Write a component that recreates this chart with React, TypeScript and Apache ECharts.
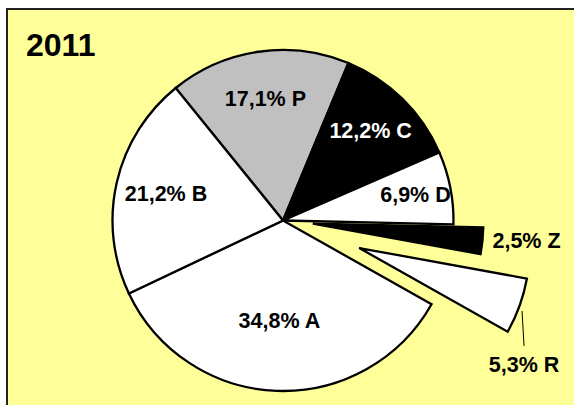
import React, { useEffect, useRef } from 'react';
import * as echarts from 'echarts';

// ---- data ----
const chartTitle = '2011';
const categories = ['P', 'C', 'D', 'Z', 'R', 'A', 'B'];
const shares = [17.1, 12.2, 6.9, 2.5, 5.3, 34.8, 21.2];

// ---- styles / layout ----
const FONT = '"Liberation Sans", Arial, sans-serif';
const sliceColors: Record<string, string> = {
  P: '#C0C0C0', C: '#000000', D: '#FFFFFF', Z: '#000000', R: '#FFFFFF', A: '#FFFFFF', B: '#FFFFFF',
};
const labelTextColors: Record<string, string> = { C: '#FFFFFF' };
const CX = 283;
const CY = 220.5;
const RADIUS = 170.5;
const START_FROM_TOP = -39; // degrees, clockwise from 12 o'clock
const explodeOffsets: Record<string, number> = { Z: 30, R: 81 };
const insideLabelRadius: Record<string, number> = { P: 120, C: 122, D: 132, A: 98, B: 117 };
const LABEL_SIZE = 21.5;

const total = shares.reduce((a, b) => a + b, 0);
const midAngleRad = (i: number) => {
  let before = 0;
  for (let k = 0; k < i; k++) before += shares[k];
  return ((START_FROM_TOP + ((before + shares[i] / 2) / total) * 360) * Math.PI) / 180;
};
const fmt = (v: number) => v.toFixed(1).replace('.', ',');
const labelText = (p: any) => `${fmt(p.value)}% ${p.name}`;

const hidden = { color: 'transparent', borderWidth: 0 };
const solid = (c: string) => ({
  color: sliceColors[c],
  borderColor: '#000000',
  borderWidth: 2.3,
  borderJoin: 'miter' as const,
});

const baseLabel = {
  fontFamily: FONT,
  fontSize: LABEL_SIZE,
  fontWeight: 'bold' as const,
  color: '#000000',
  formatter: labelText,
};

function buildOption() {
  const series: any[] = [];
  const common = {
    type: 'pie',
    startAngle: 90 - START_FROM_TOP,
    clockwise: true,
    avoidLabelOverlap: false,
    silent: true,
    emphasis: { disabled: true },
    animation: false,
  };

  // main pie (non-exploded slices)
  series.push({
    ...common,
    name: 'main',
    center: [CX, CY],
    radius: [0, RADIUS],
    label: { show: false },
    labelLine: { show: false },
    data: categories.map((c, i) => ({
      name: c,
      value: shares[i],
      itemStyle: explodeOffsets[c] != null ? hidden : solid(c),
    })),
  });

  // exploded slices
  categories.forEach((c, i) => {
    const off = explodeOffsets[c];
    if (off == null) return;
    const m = midAngleRad(i);
    const cx = CX + off * Math.sin(m);
    const cy = CY - off * Math.cos(m);
    const isR = c === 'R';
    series.push({
      ...common,
      name: 'explode-' + c,
      center: [cx, cy],
      radius: [0, RADIUS],
      label: { show: false, ...baseLabel },
      labelLine: { show: false },
      labelLayout: isR
        ? (params: any) => {
            if (params.dataIndex !== i) return {};
            const px = cx + RADIUS * Math.sin(m);
            const py = cy - RADIUS * Math.cos(m);
            return {
              x: px + 4.5,
              y: py + 59.5,
              align: 'center',
              verticalAlign: 'middle',
              labelLinePoints: [
                [px + 2.5, py + 5],
                [px + 4.5, py + 40],
              ],
            };
          }
        : undefined,
      data: categories.map((c2, j) => ({
        name: c2,
        value: shares[j],
        itemStyle: j === i ? solid(c2) : hidden,
        label: j === i ? { show: true, position: 'outside' } : { show: false },
        labelLine:
          j === i
            ? isR
              ? { show: true, length: 10, length2: 10, lineStyle: { color: '#000000', width: 1 } }
              : { show: false, length: 0, length2: 5 }
            : { show: false },
      })),
    });
  });

  // inside labels (label-only rings whose mid radius sets the label distance)
  categories.forEach((c) => {
    const rr = insideLabelRadius[c];
    if (rr == null) return;
    series.push({
      ...common,
      name: 'label-' + c,
      center: [CX, CY],
      radius: [2 * rr - RADIUS, RADIUS],
      z: 5,
      label: { show: false, ...baseLabel },
      labelLine: { show: false },
      data: categories.map((c2, j) => ({
        name: c2,
        value: shares[j],
        itemStyle: hidden,
        label:
          c2 === c
            ? { show: true, position: 'inside', color: labelTextColors[c2] || '#000000' }
            : { show: false },
      })),
    });
  });

  return {
    animation: false,
    backgroundColor: 'transparent',
    title: {
      text: chartTitle,
      left: 26,
      top: 29,
      padding: 0,
      textStyle: { fontFamily: FONT, fontSize: 32, fontWeight: 'bold', color: '#000000' },
    },
    series,
  };
}

export default function App() {
  const ref = useRef<HTMLDivElement>(null);
  useEffect(() => {
    if (!ref.current) return;
    const chart = echarts.init(ref.current, undefined, { renderer: 'svg' });
    chart.setOption(buildOption() as any);
    return () => chart.dispose();
  }, []);
  return (
    <div
      style={{
        position: 'fixed',
        left: 0,
        top: 0,
        width: 574,
        height: 405,
        background: '#FFFFFF',
        overflow: 'hidden',
      }}
    >
      <div
        style={{
          position: 'absolute',
          left: 6,
          top: 8,
          width: 600,
          height: 420,
          background: '#FFFF99',
          borderLeft: '2px solid #222222',
          borderTop: '2px solid #222222',
        }}
      />
      <div ref={ref} style={{ position: 'absolute', left: 0, top: 0, width: 574, height: 405 }} />
    </div>
  );
}
